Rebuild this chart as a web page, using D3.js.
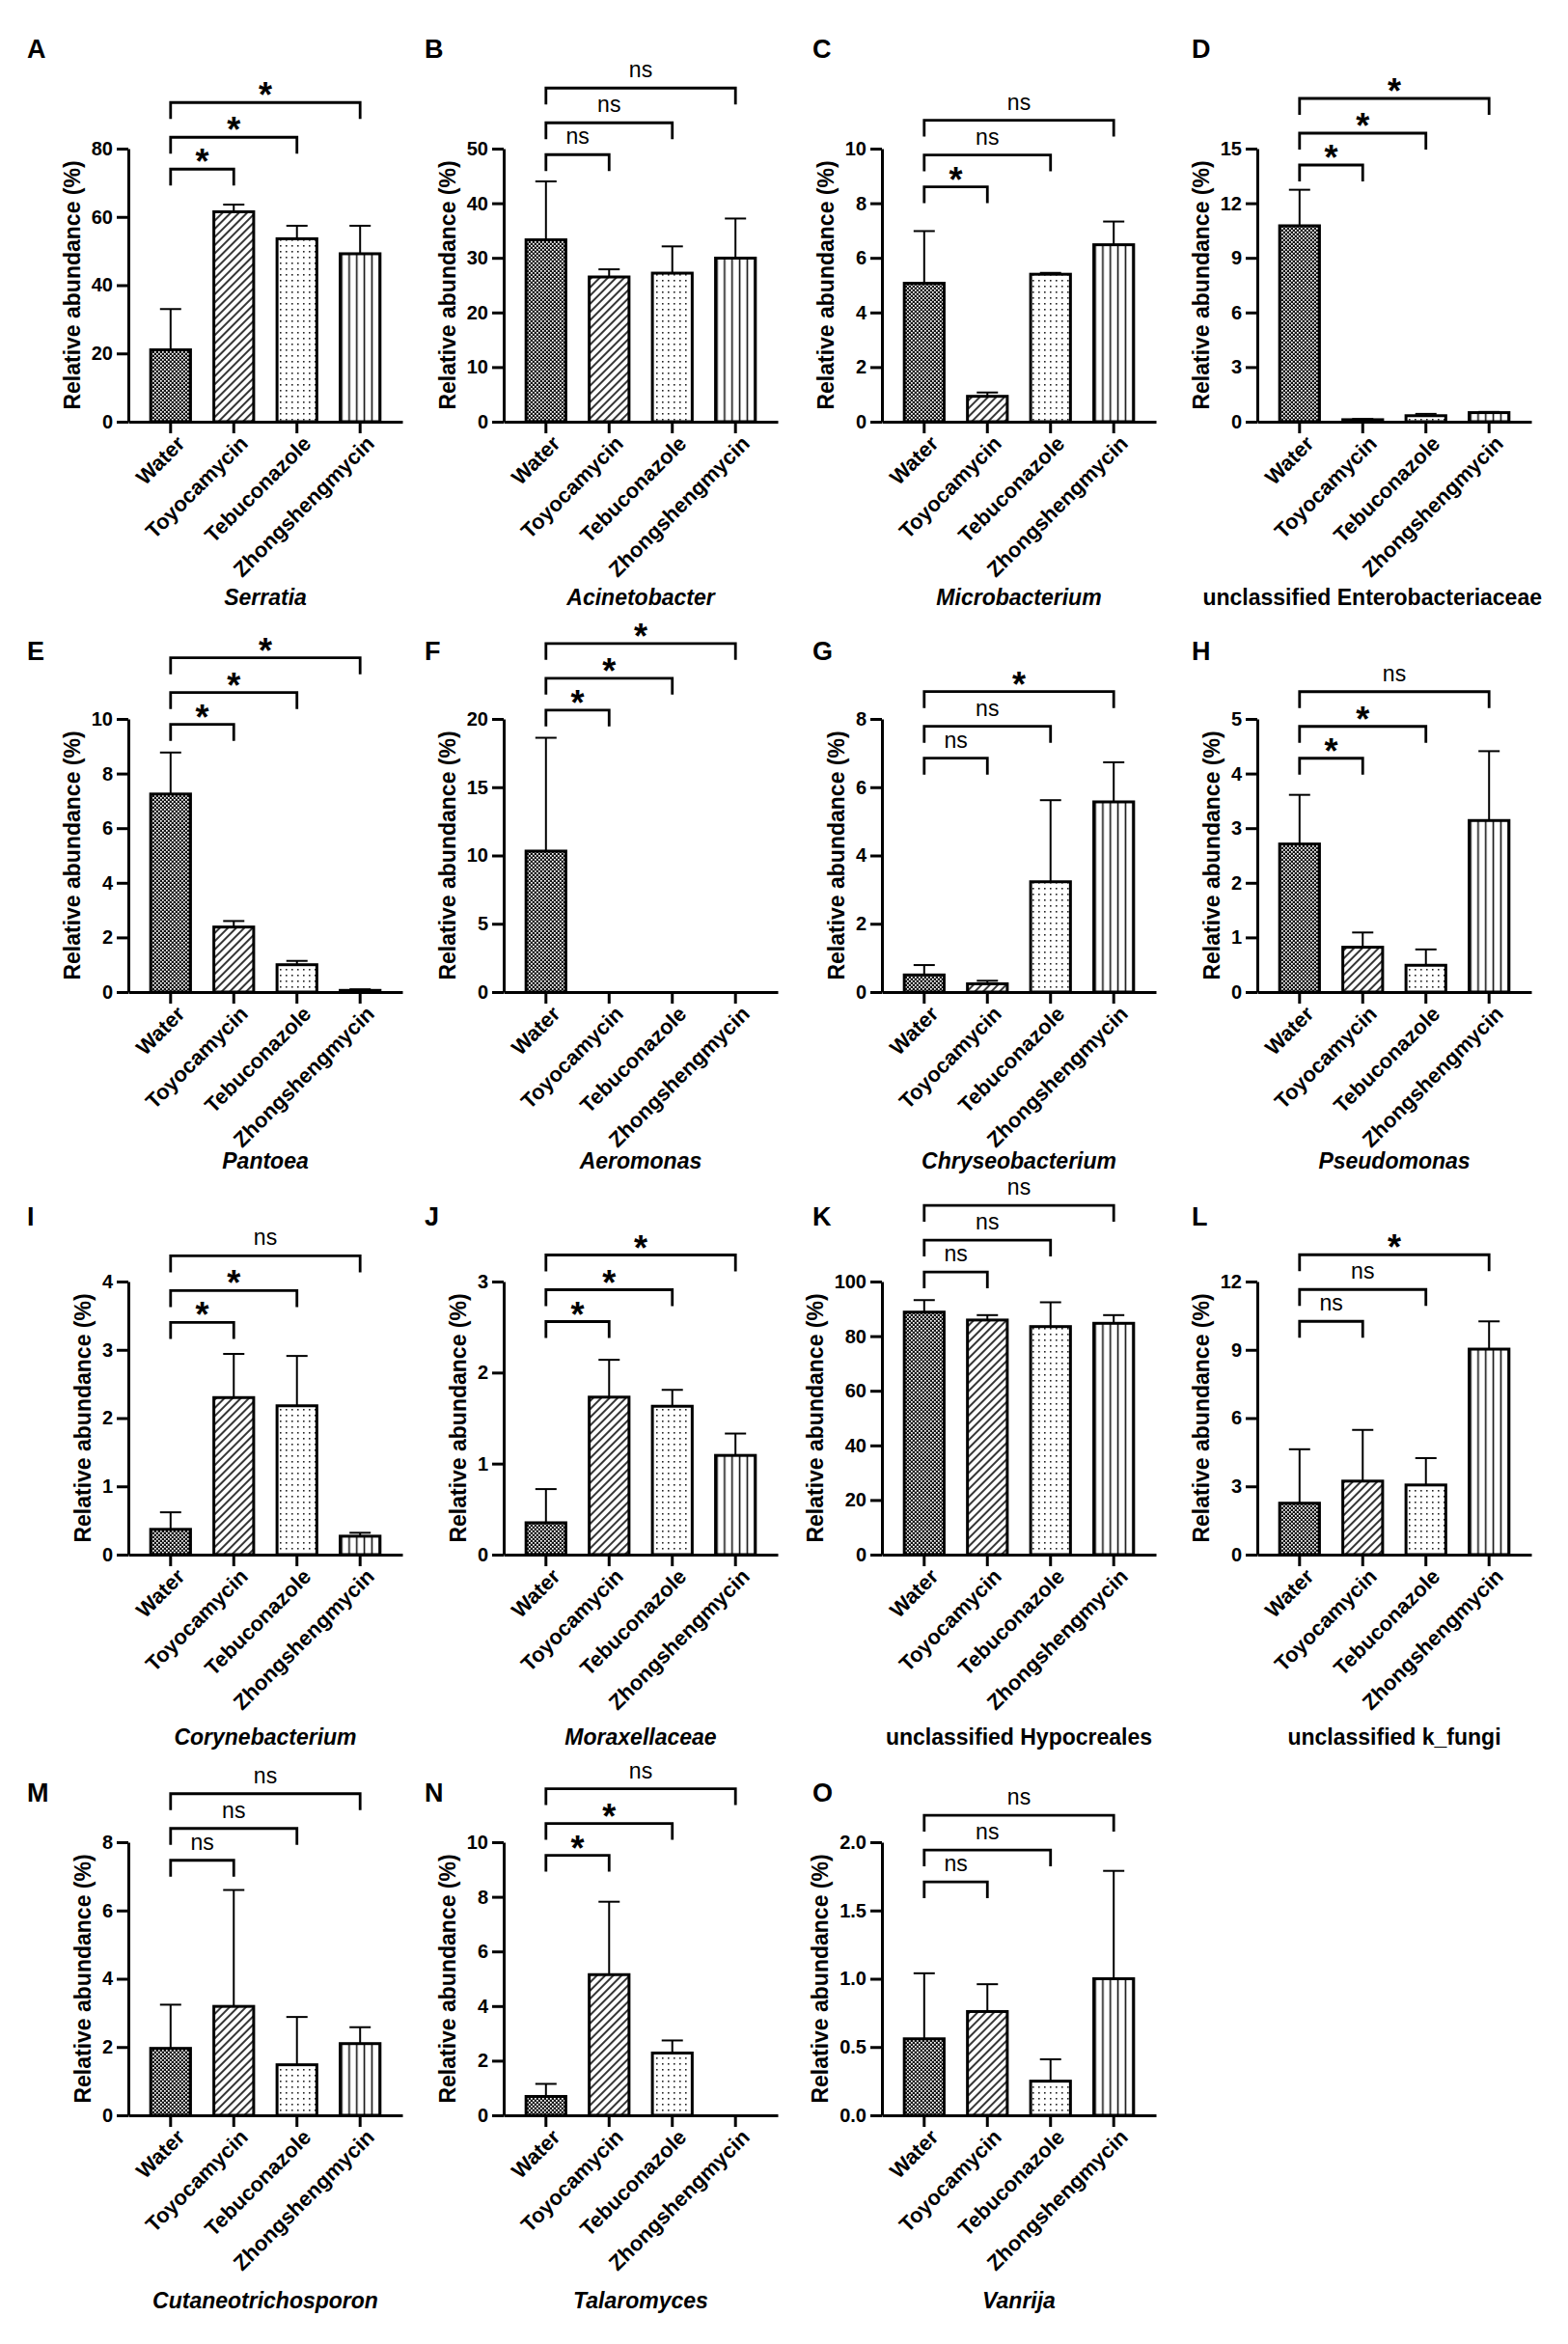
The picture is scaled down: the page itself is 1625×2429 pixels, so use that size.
<!DOCTYPE html>
<html>
<head>
<meta charset="utf-8">
<script src="https://cdn.jsdelivr.net/npm/d3@7"></script>
<style>
  body { margin: 0; background: #fff; }
  text { font-family: "Liberation Sans", Arial, Helvetica, sans-serif; }
</style>
</head>
<body>
<div id="chart"></div>
<script>
// ---- data ----
const categories = ['Water', 'Toyocamycin', 'Tebuconazole', 'Zhongshengmycin']
const letters = ['A', 'B', 'C', 'D', 'E', 'F', 'G', 'H', 'I', 'J', 'K', 'L', 'M', 'N', 'O']
const taxa = ['Serratia', 'Acinetobacter', 'Microbacterium', 'unclassified Enterobacteriaceae',
  'Pantoea', 'Aeromonas', 'Chryseobacterium', 'Pseudomonas',
  'Corynebacterium', 'Moraxellaceae', 'unclassified Hypocreales', 'unclassified k_fungi',
  'Cutaneotrichosporon', 'Talaromyces', 'Vanrija']
const italicTaxon = [true, true, true, false, true, true, true, true, true, true, false, false, true, true, true]

const yMax = [80, 50, 10, 15, 10, 20, 8, 5, 4, 3, 100, 12, 8, 10, 2]
const yStep = [20, 10, 2, 3, 2, 5, 2, 1, 1, 1, 20, 3, 2, 2, 0.5]

// mean relative abundance (%) per treatment
const means = [
  [21.05, 61.5, 53.6, 49.2],
  [33.3, 26.5, 27.2, 29.95],
  [5.07, 0.93, 5.40, 6.48],
  [10.76, 0.11, 0.33, 0.5],
  [7.25, 2.38, 1.0, 0.06],
  [10.32, 0, 0, 0],
  [0.5, 0.24, 3.23, 5.57],
  [2.71, 0.82, 0.49, 3.14],
  [0.37, 2.30, 2.18, 0.27],
  [0.35, 1.73, 1.63, 1.09],
  [88.8, 85.9, 83.5, 84.7],
  [2.26, 3.23, 3.06, 9.03],
  [1.96, 3.19, 1.48, 2.10],
  [0.69, 5.15, 2.28, 0],
  [0.56, 0.76, 0.25, 1.0]
]
// top of the error bar (mean + SD)
const errTop = [
  [33.0, 63.6, 57.4, 57.4],
  [44.0, 27.9, 32.1, 37.2],
  [6.98, 1.07, 5.45, 7.33],
  [12.74, 0.15, 0.43, 0.54],
  [8.77, 2.6, 1.14, 0.1],
  [18.62, 0, 0, 0],
  [0.79, 0.33, 5.62, 6.73],
  [3.61, 1.09, 0.78, 4.41],
  [0.62, 2.94, 2.91, 0.32],
  [0.72, 2.14, 1.81, 1.33],
  [93.2, 87.7, 92.4, 87.7],
  [4.63, 5.48, 4.24, 10.25],
  [3.24, 6.6, 2.88, 2.58],
  [1.15, 7.82, 2.74, 0],
  [1.04, 0.96, 0.41, 1.79]
]
// Water vs Toyocamycin / Tebuconazole / Zhongshengmycin
const signif = [
  ['*', '*', '*'], ['ns', 'ns', 'ns'], ['*', 'ns', 'ns'], ['*', '*', '*'],
  ['*', '*', '*'], ['*', '*', '*'], ['ns', 'ns', '*'], ['*', '*', 'ns'],
  ['*', '*', 'ns'], ['*', '*', '*'], ['ns', 'ns', 'ns'], ['ns', 'ns', '*'],
  ['ns', 'ns', 'ns'], ['*', '*', 'ns'], ['ns', 'ns', 'ns']
]
// height (axis units) of the lowest comparison bracket
const bracketBase = [74, 48.9, 8.6, 14.1, 9.8, 20.65, 6.85, 4.28, 3.4, 2.56, 103.5, 10.25, 7.47, 9.52, 1.71]

// ---- layout ----
const width = 1625
const height = 2429
const colX = [133, 522, 914, 1303]
const letterX = [28, 440, 842, 1235]
const rowZero = [437, 1028, 1611, 2192]
const letterY = [60, 684, 1270, 1867]
const genusY = [627, 1211, 1808, 2392]
const plotH = 283
const plotW = 284
const bracketGap = [0, 33, 69]
const legLen = 17

const svg = d3.select('#chart').append('svg')
  .attr('width', width)
  .attr('height', height)

svg.append('rect').attr('width', width).attr('height', height).attr('fill', '#fff')

const defs = svg.append('defs')

// Water: dense checker
const pCheck = defs.append('pattern').attr('id', 'pat0')
  .attr('patternUnits', 'userSpaceOnUse').attr('width', 4).attr('height', 4)
pCheck.append('rect').attr('width', 4).attr('height', 4).attr('fill', '#111')
pCheck.append('rect').attr('x', 0).attr('y', 0).attr('width', 1.7).attr('height', 1.7).attr('fill', '#fff')
pCheck.append('rect').attr('x', 2).attr('y', 2).attr('width', 1.7).attr('height', 1.7).attr('fill', '#fff')

// Toyocamycin: diagonal hatch
const pHatch = defs.append('pattern').attr('id', 'pat1')
  .attr('patternUnits', 'userSpaceOnUse').attr('width', 6).attr('height', 6)
  .attr('patternTransform', 'rotate(45)')
pHatch.append('rect').attr('width', 6).attr('height', 6).attr('fill', '#fff')
pHatch.append('line').attr('x1', 1).attr('y1', 0).attr('x2', 1).attr('y2', 6)
  .attr('stroke', '#111').attr('stroke-width', 1.7)

// Tebuconazole: dots
const pDots = defs.append('pattern').attr('id', 'pat2')
  .attr('patternUnits', 'userSpaceOnUse').attr('width', 6).attr('height', 6)
pDots.append('rect').attr('width', 6).attr('height', 6).attr('fill', '#fff')
pDots.append('rect').attr('x', 2).attr('y', 2).attr('width', 1.6).attr('height', 1.6).attr('fill', '#222')

// Zhongshengmycin: vertical lines, aligned to each bar
const pVert = defs.append('pattern').attr('id', 'pat3')
  .attr('patternUnits', 'objectBoundingBox').attr('width', 0.19).attr('height', 1)
pVert.append('rect').attr('width', 10).attr('height', 2000).attr('fill', '#fff')
pVert.append('line').attr('x1', 1.5).attr('y1', 0).attr('x2', 1.5).attr('y2', 2000)
  .attr('stroke', '#111').attr('stroke-width', 1.6)

letters.forEach((letter, i) => {
  const r = Math.floor(i / 4)
  const c = i % 4
  const x0 = colX[c]
  const y0 = rowZero[r]
  const g = svg.append('g')

  const x = d3.scaleBand().domain(categories)
    .range([x0, x0 + plotW])
    .paddingInner(0.37)
    .paddingOuter(0.354)
  const y = d3.scaleLinear().domain([0, yMax[i]]).range([y0, y0 - plotH])
  const cx = (cat) => x(cat) + x.bandwidth() / 2
  const fmt = yStep[i] < 1 ? d3.format('.1f') : d3.format('d')

  // bars
  const rows = categories.map((cat, k) => ({ cat, k, v: means[i][k], e: errTop[i][k] }))
  g.selectAll('rect.bar')
    .data(rows.filter(d => d.v > 0))
    .enter()
    .append('rect')
    .attr('class', 'bar')
    .attr('x', d => x(d.cat))
    .attr('width', x.bandwidth())
    .attr('y', d => y(d.v))
    .attr('height', d => y0 - y(d.v))
    .attr('fill', d => `url(#pat${d.k})`)
    .attr('stroke', '#000')
    .attr('stroke-width', 3)

  // error bars
  const eb = g.selectAll('g.err')
    .data(rows.filter(d => d.e > d.v))
    .enter()
    .append('g')
    .attr('class', 'err')
    .attr('stroke', '#000')
    .attr('stroke-width', 2)
  eb.append('line')
    .attr('x1', d => cx(d.cat)).attr('x2', d => cx(d.cat))
    .attr('y1', d => y(d.v)).attr('y2', d => y(d.e))
  eb.append('line')
    .attr('x1', d => cx(d.cat) - 11).attr('x2', d => cx(d.cat) + 11)
    .attr('y1', d => y(d.e)).attr('y2', d => y(d.e))

  // y axis
  const yAxis = g.append('g')
    .attr('transform', `translate(${x0},0)`)
    .call(d3.axisLeft(y)
      .tickValues(d3.range(0, yMax[i] + yStep[i] / 2, yStep[i]))
      .tickSize(12)
      .tickSizeOuter(0)
      .tickPadding(4)
      .tickFormat(fmt))
  yAxis.select('.domain').attr('stroke-width', 3)
  yAxis.selectAll('.tick line').attr('stroke-width', 3)
  yAxis.selectAll('.tick text')
    .attr('font-size', 20)
    .attr('font-weight', 'bold')
    .attr('fill', '#000')
    .style('font-family', '"Liberation Sans", Arial, sans-serif')

  let maxTick = 0
  yAxis.selectAll('.tick text').each(function () {
    maxTick = Math.max(maxTick, this.getComputedTextLength())
  })

  // x axis
  const xAxis = g.append('g')
    .attr('transform', `translate(0,${y0})`)
    .call(d3.axisBottom(x).tickSize(12).tickSizeOuter(0))
  xAxis.select('.domain').attr('stroke-width', 3)
  xAxis.selectAll('.tick line').attr('stroke-width', 3)
  xAxis.selectAll('.tick text')
    .attr('x', 0)
    .attr('y', 0)
    .attr('dy', 0)
    .attr('transform', 'translate(16,24) rotate(-45)')
    .attr('text-anchor', 'end')
    .attr('font-size', 22)
    .attr('font-weight', 'bold')
    .attr('fill', '#000')
    .style('font-family', '"Liberation Sans", Arial, sans-serif')

  // y title
  const tx = x0 - 16 - maxTick - 12
  g.append('text')
    .attr('transform', `translate(${tx},${y0 - plotH / 2}) rotate(-90)`)
    .attr('text-anchor', 'middle')
    .attr('font-size', 23)
    .attr('font-weight', 'bold')
    .text('Relative abundance (%)')

  // comparison brackets
  signif[i].forEach((s, k) => {
    const ly = y(bracketBase[i]) - bracketGap[k]
    const xa = cx(categories[0])
    const xb = cx(categories[k + 1])
    g.append('path')
      .attr('d', `M${xa},${ly + legLen}V${ly}H${xb}V${ly + legLen}`)
      .attr('fill', 'none')
      .attr('stroke', '#000')
      .attr('stroke-width', 2.8)
    const t = g.append('text')
      .attr('x', (xa + xb) / 2)
      .attr('text-anchor', 'middle')
      .text(s)
    if (s === '*') {
      t.attr('y', ly + 5).attr('font-size', 36).attr('font-weight', 'bold')
    } else {
      t.attr('y', ly - 11).attr('font-size', 23)
    }
  })

  // panel letter
  g.append('text')
    .attr('x', letterX[c])
    .attr('y', letterY[r])
    .attr('font-size', 27)
    .attr('font-weight', 'bold')
    .text(letter)

  // taxon label
  const lab = g.append('text')
    .attr('x', x0 + plotW / 2)
    .attr('y', genusY[r])
    .attr('text-anchor', 'middle')
    .attr('font-size', 23)
    .attr('font-weight', 'bold')
    .attr('font-style', italicTaxon[i] ? 'italic' : 'normal')
    .text(taxa[i])
  const bb = lab.node().getBBox()
  if (bb.x + bb.width > 1598) {
    lab.attr('x', x0 + plotW / 2 - (bb.x + bb.width - 1598))
  }
})
</script>
</body>
</html>
